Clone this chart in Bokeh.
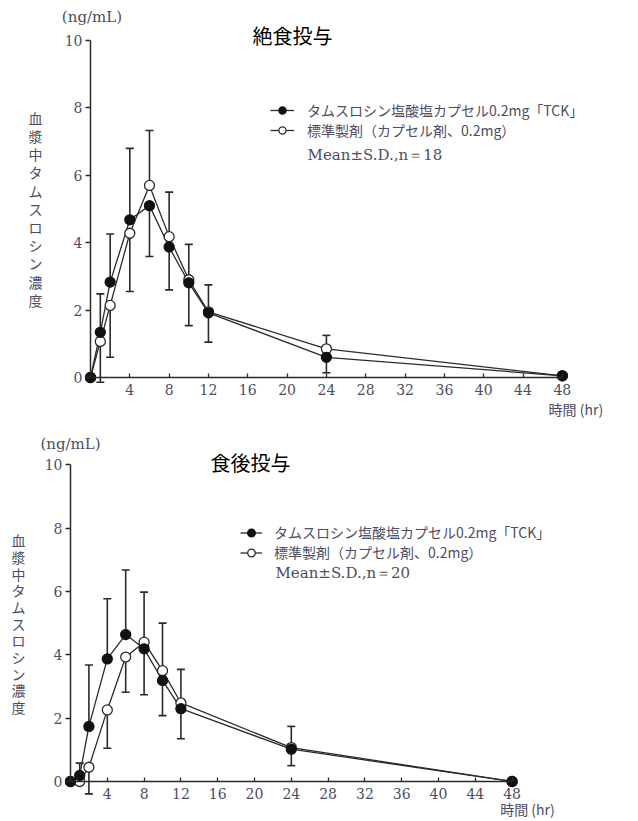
from bokeh.plotting import figure
from bokeh.models import (Range1d, FixedTicker, Whisker, TeeHead, ColumnDataSource,
                          Label, Legend, LegendItem)
from bokeh.layouts import column
from bokeh.embed import file_html
from bokeh.resources import INLINE

# ---------------- data ----------------
time_hr = [0, 1, 2, 4, 6, 8, 10, 12, 24, 48]
x_ticks = [4, 8, 12, 16, 20, 24, 28, 32, 36, 40, 44, 48]
y_ticks = [0, 2, 4, 6, 8, 10]

label_test = "タムスロシン塩酸塩カプセル0.2mg「TCK」"
label_ref = "標準製剤（カプセル剤、0.2mg）"

# fasting
fast_test = [0, 1.34, 2.83, 4.68, 5.10, 3.87, 2.81, 1.92, 0.60, 0.05]
fast_test_sd = [0, 1.14, 1.43, 2.12, 1.51, 1.27, 1.27, 0.87, 0.46, 0.08]
fast_ref = [0, 1.07, 2.14, 4.28, 5.70, 4.18, 2.90, 1.95, 0.85, 0.05]
fast_ref_sd = [0, 1.21, 1.54, 1.73, 1.63, 1.32, 1.05, 0.80, 0.40, 0.08]
fast_n = 18

# fed
fed_test = [0, 0.19, 1.74, 3.87, 4.64, 4.19, 3.19, 2.30, 1.02, 0.0]
fed_test_sd = [0, 0.39, 1.94, 1.90, 2.04, 1.45, 1.11, 0.95, 0.52, 0.05]
fed_ref = [0, 0.0, 0.45, 2.26, 3.93, 4.40, 3.50, 2.48, 1.07, 0.0]
fed_ref_sd = [0, 0.0, 0.84, 1.21, 1.11, 1.58, 1.50, 1.06, 0.67, 0.05]
fed_n = 20

JP = "Noto Sans CJK JP"
SERIF = "DejaVu Serif"
TXT = "#4d4d63"
INK = "#2a2a2a"
W = 638


def make_panel(title, n, test, test_sd, ref, ref_sd, g):
    H = g["H"]
    ox, oy, sx, sy = g["ox"], g["oy"], g["sx"], g["sy"]   # pixel origin & scales
    xr = (-ox / sx, (W - ox) / sx)
    yr = ((oy - H) / sy, oy / sy)
    p = figure(width=W, height=H, x_range=Range1d(*xr), y_range=Range1d(*yr),
               output_backend="svg", toolbar_location=None,
               min_border_left=0, min_border_top=0,
               min_border_right=0, min_border_bottom=0,
               background_fill_color="white", border_fill_color="white")
    p.outline_line_color = None
    p.grid.visible = False

    for ax in (p.xaxis[0], p.yaxis[0]):
        ax.fixed_location = 0
        ax.axis_line_color = INK
        ax.axis_line_width = 1.5
        ax.major_tick_line_color = INK
        ax.major_tick_line_width = 1.3
        ax.minor_tick_line_color = None
        ax.major_label_text_font = SERIF
        ax.major_label_text_font_size = "14px"
        ax.major_label_text_color = TXT
    p.xaxis.ticker = FixedTicker(ticks=x_ticks)
    p.yaxis.ticker = FixedTicker(ticks=y_ticks)
    p.xaxis.bounds = (0, 48)
    p.yaxis.bounds = (0, 10)
    p.xaxis.major_tick_in = 4
    p.xaxis.major_tick_out = 0
    p.xaxis.major_label_standoff = 6
    p.yaxis.major_tick_in = 0
    p.yaxis.major_tick_out = 5
    p.yaxis.major_label_standoff = 3

    # error bars: upward from the higher mean, downward from the lower mean
    up_b, up_lo, up_hi, dn_b, dn_lo, dn_hi = [], [], [], [], [], []
    for t, a, sa, b, sb in zip(time_hr, test, test_sd, ref, ref_sd):
        if a >= b:
            hi, shi, lo, slo = a, sa, b, sb
        else:
            hi, shi, lo, slo = b, sb, a, sa
        if shi > 0:
            up_b.append(t); up_lo.append(hi); up_hi.append(hi + shi)
        if slo > 0:
            dn_b.append(t); dn_lo.append(lo - slo); dn_hi.append(lo)
    src_up = ColumnDataSource(dict(base=up_b, lower=up_lo, upper=up_hi))
    src_dn = ColumnDataSource(dict(base=dn_b, lower=dn_lo, upper=dn_hi))
    p.add_layout(Whisker(base="base", lower="lower", upper="upper", source=src_up,
                         dimension="height", line_color=INK, line_width=1.6,
                         upper_head=TeeHead(size=8, line_color=INK, line_width=1.6),
                         lower_head=None))
    p.add_layout(Whisker(base="base", lower="lower", upper="upper", source=src_dn,
                         dimension="height", line_color=INK, line_width=1.6,
                         lower_head=TeeHead(size=8, line_color=INK, line_width=1.6),
                         upper_head=None))

    lr = p.line(time_hr, ref, line_color=INK, line_width=1.3)
    lt = p.line(time_hr, test, line_color=INK, line_width=1.3)
    sr = p.scatter(time_hr, ref, marker="circle", size=10, fill_color="white",
                   line_color=INK, line_width=1.3)
    st = p.scatter(time_hr, test, marker="circle", size=10, fill_color="#111111",
                   line_color="#111111", line_width=1.3)

    legend = Legend(items=[LegendItem(label=label_test, renderers=[lt, st]),
                           LegendItem(label=label_ref, renderers=[lr, sr])],
                    location=g["leg_loc"], orientation="vertical",
                    padding=0, margin=0, spacing=0,
                    glyph_width=g["gw"], glyph_height=g["gh"], label_height=g["gh"],
                    label_standoff=g["ls"],
                    label_text_font=JP, label_text_font_size="14px",
                    label_text_color=TXT,
                    border_line_color=None, background_fill_alpha=0)
    p.add_layout(legend)

    def lab(txt, x, y, font, size, color, align="left", baseline="middle", lh=1.2):
        p.add_layout(Label(x=x, y=y, text=txt, text_font=font, text_font_size=size,
                           text_color=color, text_align=align, text_baseline=baseline,
                           text_line_height=lh))

    lab(f"Mean±S.D.,n＝{n}", *g["mean"], SERIF, "15px", TXT)
    lab(title, *g["title"], JP, "20px", "#000000", align="center")
    lab("(ng/mL)", *g["unit"], SERIF, "15px", TXT, align="center")
    lab("時間 (hr)", *g["xlab"], JP, "14px", TXT, align="left")
    lab("\n".join("血漿中タムスロシン濃度"), *g["ylab"], JP, "14px", TXT,
        align="center", baseline="top", lh=g["ylh"])
    return p


g_top = dict(H=430, ox=90, oy=377, sx=9.83, sy=33.7,
             leg_loc=(270, 290), gw=24, gh=18, ls=13,
             mean=(22.08, 6.59), title=(20.55, 10.15), unit=(0.15, 10.71),
             xlab=(46.6, -0.92), ylab=(-5.6, 8.0), ylh=0.91)
g_bot = dict(H=391, ox=70, oy=351, sx=9.2, sy=31.67,
             leg_loc=(240, 259), gw=22, gh=19, ls=12,
             mean=(22.28, 6.57), title=(19.57, 10.07), unit=(0.0, 10.67),
             xlab=(46.7, -0.88), ylab=(-5.65, 7.93), ylh=0.834)

p1 = make_panel("絶食投与", fast_n, fast_test, fast_test_sd, fast_ref, fast_ref_sd, g_top)
p2 = make_panel("食後投与", fed_n, fed_test, fed_test_sd, fed_ref, fed_ref_sd, g_bot)

layout = column(p1, p2, spacing=0)
open("out.html", "w").write(file_html(layout, INLINE))
